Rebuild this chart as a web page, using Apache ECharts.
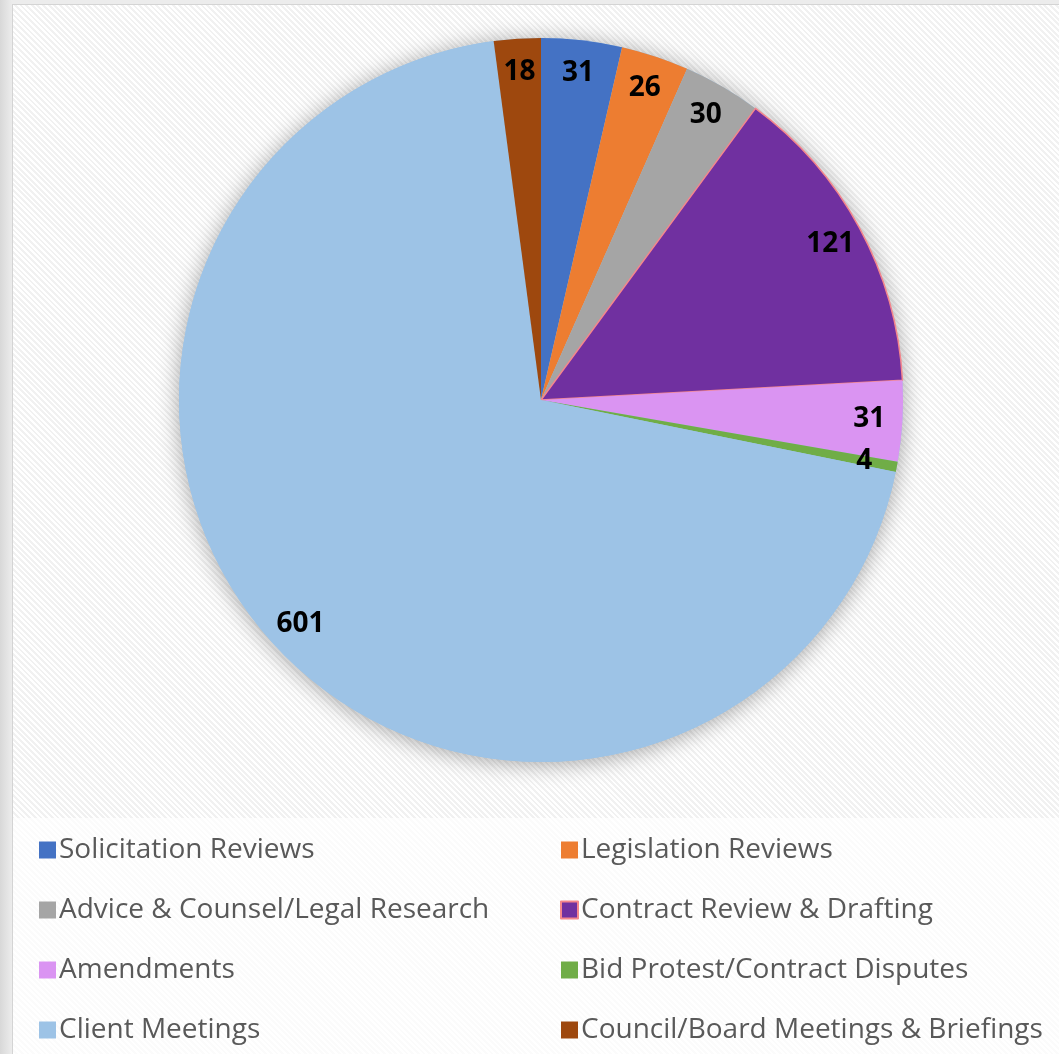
<!DOCTYPE html>
<html>
<head>
    <meta charset="utf-8">
    <title></title>
    <script src="https://cdn.jsdelivr.net/npm/echarts@6/dist/echarts.min.js"></script>
    <style>
        body{
            margin: 0;
            width: 1059px;
            height: 1054px;
            overflow: hidden;
            background: linear-gradient(90deg, #d8d8d8 0px, #ececec 12px);
            position: relative;
        }
        #frame{
            position: absolute;
            left: 12px;
            top: 4px;
            right: 0;
            bottom: 0;
            border-left: 1px solid #d4d4d4;
            border-top: 1px solid #d4d4d4;
            background: repeating-linear-gradient(45deg, #ffffff 0px, #ffffff 2px, #f1f1f1 2px, #f1f1f1 4px);
        }
        #legendBg{
            position: absolute;
            left: 13px;
            top: 818px;
            right: 0;
            bottom: 0;
            background: repeating-linear-gradient(45deg, #ffffff 0px, #ffffff 2px, #fbfbfb 2px, #fbfbfb 4px);
        }
        #main{
            position: absolute;
            left: 0;
            top: 0;
            width: 1059px;
            height: 1054px;
        }
    </style>
</head>
<body>
<div id="frame"></div>
<div id="legendBg"></div>
<div id="main"></div>
<script>
    var categories = ['Solicitation Reviews', 'Legislation Reviews', 'Advice & Counsel/Legal Research',
        'Contract Review & Drafting', 'Amendments', 'Bid Protest/Contract Disputes',
        'Client Meetings', 'Council/Board Meetings & Briefings'];
    var values = [31, 26, 30, 121, 31, 4, 601, 18];
    var colors = ['#4472C4', '#ED7D31', '#A5A5A5', '#7030A0', '#DA94F2', '#70AD47', '#9DC3E6', '#9E480E'];

    var total = 0;
    for (var k = 0; k < values.length; k++) total += values[k];

    var pieData = [];
    var labelData = [];
    for (var i = 0; i < categories.length; i++) {
        var item = { name: categories[i], value: values[i], itemStyle: { color: colors[i] } };
        if (i == 3) {
            item.itemStyle.borderColor = '#F4868C';
            item.itemStyle.borderWidth = 1.5;
        }
        pieData.push(item);
        labelData.push({ name: categories[i], value: values[i] });
    }

    var center = [541, 400];
    var R = 362;
    var font = '"Open Sans", "Noto Sans", sans-serif';

    var leftNames = [], rightNames = [];
    for (var j = 0; j < categories.length; j++) {
        if (j % 2 == 0) leftNames.push(categories[j]); else rightNames.push(categories[j]);
    }
    var legendBase = {
        orient: 'vertical',
        top: 830,
        itemWidth: 17,
        itemHeight: 17,
        itemGap: 30,
        icon: 'rect',
        selectedMode: false,
        textStyle: { fontFamily: font, fontSize: 28, lineHeight: 30, color: '#595959', padding: [0, 0, 0, -2] }
    };

    var option = {
        animation: false,
        color: colors,
        legend: [
            Object.assign({}, legendBase, { left: 34, data: leftNames }),
            Object.assign({}, legendBase, { left: 555, data: rightNames })
        ],
        series: [
            {
                // shadow disc under the pie
                type: 'pie',
                center: center,
                radius: [0, R],
                silent: true,
                z: 1,
                label: { show: false },
                labelLine: { show: false },
                data: [{ name: '', value: total, itemStyle: { color: '#9DC3E6', shadowBlur: 22, shadowColor: 'rgba(0,0,0,0.35)', shadowOffsetY: 2 } }]
            },
            {
                type: 'pie',
                center: center,
                radius: [0, R],
                startAngle: 90,
                clockwise: true,
                z: 2,
                label: { show: false },
                labelLine: { show: false },
                emphasis: { disabled: true },
                data: pieData
            },
            {
                // label ring, places numbers near the outer edge
                type: 'pie',
                center: center,
                radius: [R * 0.8, R],
                startAngle: 90,
                clockwise: true,
                silent: true,
                z: 3,
                itemStyle: { color: 'rgba(0,0,0,0)' },
                label: {
                    show: true,
                    position: 'inside',
                    formatter: '{c}',
                    fontFamily: font,
                    fontWeight: 'bold',
                    fontSize: 28,
                    color: '#000'
                },
                labelLine: { show: false },
                data: labelData
            }
        ]
    };

    var chart = echarts.init(document.getElementById('main'));
    chart.setOption(option);
</script>
</body>
</html>
